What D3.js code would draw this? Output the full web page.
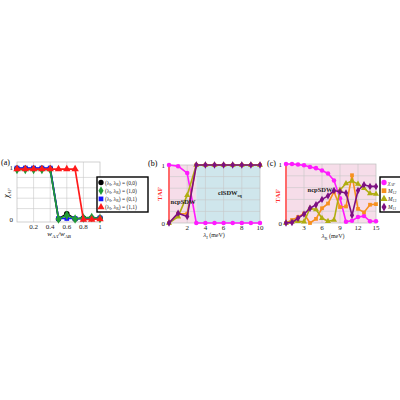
<!DOCTYPE html>
<html lang="en">
<head>
  <meta charset="UTF-8">
  <title>Order parameters vs couplings</title>
  <style>
    body { margin: 0; padding: 0; background: #fff; }
    svg { display: block; font-family: "Liberation Serif", "DejaVu Serif", serif; }
    .grid line { stroke: #c8c8c8; stroke-width: 0.6; }
    .tick-label { font-size: 7px; fill: #222; }
  </style>
</head>
<body>
  <svg id="chart" width="400" height="400"></svg>

  <script src="https://d3js.org/d3.v7.min.js"></script>
  <script>
    // ---- data ----
    // (a) chi_AF vs w_AA/w_AB
    const wRatio = [0, 0.1, 0.2, 0.3, 0.4, 0.5, 0.6, 0.7, 0.8, 0.9, 1.0];
    const chi00 = [0.97, 0.97, 0.97, 0.97, 0.97, 0.00, 0.10, 0.00, 0.02, 0.02, 0.02];
    const chi10 = [0.95, 0.95, 0.95, 0.95, 0.95, 0.00, 0.07, 0.00, 0.02, 0.03, 0.01];
    const chi01 = [0.98, 0.98, 0.98, 0.98, 0.98, 0.01, 0.01, 0.01, 0.00, 0.01, 0.02];
    const chi11 = [0.96, 0.96, 0.96, 0.96, 0.96, 0.96, 0.96, 0.96, -0.01, -0.01, 0.00];
    const legendA = ["(0,0)", "(1,0)", "(0,1)", "(1,1)"];

    // (b) vs lambda_I
    const lamI = [0, 1, 2, 3, 4, 5, 6, 7, 8, 9, 10];
    const chiB = [1.00, 0.98, 0.86, 0, 0, 0, 0, 0, 0, 0, 0];
    const m12B = [0, 0.16, 0.16, 1, 1, 1, 1, 1, 1, 1, 1];
    const m13B = [0, 0.11, 0.48, 1, 1, 1, 1, 1, 1, 1, 1];
    const m11B = [0, 0.17, 0.11, 1, 1, 1, 1, 1, 1, 1, 1];

    // (c) vs lambda_R
    const lamR = [0, 1, 2, 3, 4, 5, 6, 7, 8, 9, 10, 11, 12, 13, 14, 15];
    const chiC = [1.00, 1.00, 0.99, 0.98, 0.95, 0.93, 0.89, 0.84, 0.72, 0.42, 0.02, 0.04, 0.10, 0.12, 0.03, 0.03];
    const m12C = [0, 0.05, 0.10, 0.16, 0.00, 0.07, 0.25, 0.33, 0.53, 0.27, 0.28, 0.81, 0.24, 0.18, 0.31, 0.32];
    const m13C = [0, 0.02, 0.03, 0.02, 0.25, 0.23, 0.08, 0.03, 0.05, 0.56, 0.67, 0.71, 0.66, 0.59, 0.50, 0.49];
    const m11C = [0, 0.01, 0.08, 0.15, 0.25, 0.31, 0.40, 0.46, 0.55, 0.53, 0.51, 0.13, 0.55, 0.65, 0.62, 0.62];

    const svg = d3.select("#chart");
    svg.append("rect").attr("width", 400).attr("height", 400).attr("fill", "#fff");

    const C = { mag: "#ff1aff", ora: "#f7901e", oli: "#b0ad10", pur: "#7d0f82" };
    const sym = {
      circle: d3.symbolCircle, square: d3.symbolSquare,
      triangle: d3.symbolTriangle, diamond: d3.symbolDiamond
    };

    // generic panel: frame, grid, ticks
    function panel(o) {
      const x = d3.scaleLinear().domain(o.xDom).range(o.xR);
      const y = d3.scaleLinear().domain(o.yDom).range(o.yR);
      const g = svg.append("g");
      const top = o.frameTop, bot = o.frameBot;

      (o.shades || []).forEach(s => {
        g.append("rect")
          .attr("x", x(s.from)).attr("width", x(s.to) - x(s.from))
          .attr("y", top).attr("height", bot - top)
          .attr("fill", s.color);
      });

      const grid = g.append("g").attr("class", "grid");
      grid.selectAll(".gx").data(o.xGrid).enter().append("line")
        .attr("x1", d => x(d)).attr("x2", d => x(d))
        .attr("y1", top).attr("y2", bot);
      grid.selectAll(".gy").data(o.yGrid).enter().append("line")
        .attr("x1", o.xR[0]).attr("x2", o.xR[1])
        .attr("y1", d => y(d)).attr("y2", d => y(d));

      g.append("rect")
        .attr("x", o.xR[0]).attr("y", top)
        .attr("width", o.xR[1] - o.xR[0]).attr("height", bot - top)
        .attr("fill", "none").attr("stroke", "#bdbdbd").attr("stroke-width", 0.7);

      if (o.redAxis) {
        g.append("line")
          .attr("x1", x(o.xDom[0])).attr("x2", x(o.xDom[0]))
          .attr("y1", top).attr("y2", bot)
          .attr("stroke", "#ff6a6a").attr("stroke-width", 2);
      }

      g.selectAll(".xt").data(o.xTicks).enter().append("text")
        .attr("class", "tick-label")
        .attr("x", d => x(d)).attr("y", bot + 6.5)
        .attr("text-anchor", "middle")
        .text(o.xFmt || (d => d));
      g.selectAll(".yt").data([0, 1]).enter().append("text")
        .attr("class", "tick-label")
        .attr("x", o.xR[0] - 4).attr("y", d => y(d) + 2.5)
        .attr("text-anchor", "end")
        .text(d => d);

      return { x, y, g };
    }

    function series(p, xs, ys, color, shape, size, width) {
      const pts = xs.map((v, i) => [v, ys[i]]);
      p.g.append("path")
        .datum(pts)
        .attr("fill", "none").attr("stroke", color).attr("stroke-width", width)
        .attr("stroke-linejoin", "round")
        .attr("d", d3.line().x(d => p.x(d[0])).y(d => p.y(d[1])));
      p.g.selectAll(null).data(pts).enter().append("path")
        .attr("transform", d => `translate(${p.x(d[0])},${p.y(d[1])})`)
        .attr("d", d3.symbol().type(shape).size(size))
        .attr("fill", color);
    }

    function legend(x0, y0, w, h, items, rowH) {
      const g = svg.append("g");
      g.append("rect").attr("x", x0).attr("y", y0).attr("width", w).attr("height", h)
        .attr("fill", "#fff").attr("stroke", "#000").attr("stroke-width", 1.4);
      items.forEach((it, i) => {
        const cy = y0 + 5.5 + i * rowH;
        g.append("path")
          .attr("transform", `translate(${x0 + 4},${cy})`)
          .attr("d", d3.symbol().type(it.shape).size(it.size || 18))
          .attr("fill", it.color);
        const t = g.append("text").attr("x", x0 + 8).attr("y", cy + 2)
          .attr("font-size", 5.5).attr("fill", "#222");
        it.label(t);
      });
    }

    // ---------- (a) ----------
    const pa = panel({
      xDom: [0, 1], xR: [17, 100], yDom: [0, 1], yR: [219, 167],
      frameTop: 162, frameBot: 222,
      xGrid: [0.2, 0.4, 0.6, 0.8], yGrid: [0.2, 0.4, 0.6, 0.8],
      xTicks: [0.2, 0.4, 0.6, 0.8, 1]
    });
    series(pa, wRatio, chi00, "#000", sym.circle, 24, 1.7);
    series(pa, wRatio, chi01, "#1515ff", sym.square, 22, 1.7);
    series(pa, wRatio, chi10, "#1f9b35", sym.diamond, 26, 1.7);
    series(pa, wRatio, chi11, "#ff1a1a", sym.triangle, 24, 1.7);

    svg.append("text").attr("x", 1).attr("y", 165).attr("font-size", 8).text("(a)");
    svg.append("text")
      .attr("transform", "translate(9,193) rotate(-90)")
      .attr("text-anchor", "middle").attr("font-size", 7.5).attr("font-style", "italic")
      .call(t => { t.append("tspan").text("χ"); t.append("tspan").attr("font-size", 5).attr("dy", 1.5).text("AF"); });
    svg.append("text").attr("x", 59).attr("y", 236).attr("text-anchor", "middle")
      .attr("font-size", 7).attr("font-style", "italic")
      .call(t => {
        t.append("tspan").text("w");
        t.append("tspan").attr("font-size", 5).attr("dy", 1.5).text("AA");
        t.append("tspan").attr("dy", -1.5).text("/w");
        t.append("tspan").attr("font-size", 5).attr("dy", 1.5).text("AB");
      });

    const colorsA = ["#000", "#1f9b35", "#1515ff", "#ff1a1a"];
    const shapesA = [sym.circle, sym.diamond, sym.square, sym.triangle];
    legend(97, 177, 51, 35, legendA.map((v, i) => ({
      color: colorsA[i], shape: shapesA[i], size: 22,
      label: t => {
        t.append("tspan").text("(λ");
        t.append("tspan").attr("font-size", 3.8).attr("dy", 1).text("I");
        t.append("tspan").attr("dy", -1).text(", λ");
        t.append("tspan").attr("font-size", 3.8).attr("dy", 1).text("R");
        t.append("tspan").attr("dy", -1).text(") = " + v);
      }
    })), 8.2);

    // ---------- (b) ----------
    const pb = panel({
      xDom: [0, 10], xR: [169, 260], yDom: [0, 1], yR: [223, 165],
      frameTop: 165, frameBot: 223,
      shades: [{ from: 0, to: 3, color: "#f6dde9" }, { from: 3, to: 10, color: "#cfe6ec" }],
      xGrid: [2, 4, 6, 8], yGrid: [0.2, 0.4, 0.6, 0.8],
      xTicks: [2, 4, 6, 8, 10], redAxis: true
    });
    series(pb, lamI, chiB, C.mag, sym.circle, 16, 1.6);
    series(pb, lamI, m12B, C.ora, sym.square, 14, 1.6);
    series(pb, lamI, m13B, C.oli, sym.triangle, 16, 1.6);
    series(pb, lamI, m11B, C.pur, sym.diamond, 16, 1.6);

    svg.append("text").attr("x", 148).attr("y", 166).attr("font-size", 8).text("(b)");
    svg.append("text").attr("transform", "translate(162,194) rotate(-90)")
      .attr("text-anchor", "middle").attr("font-size", 7).attr("font-weight", "bold")
      .attr("fill", "#ff3030").text("TAF");
    svg.append("text").attr("x", 183).attr("y", 204).attr("text-anchor", "middle")
      .attr("font-size", 6.5).attr("font-weight", "bold").attr("fill", "#222").text("ncpSDW");
    svg.append("text").attr("x", 230).attr("y", 195).attr("text-anchor", "middle")
      .attr("font-size", 6.5).attr("font-weight", "bold").attr("fill", "#222")
      .call(t => { t.append("tspan").text("clSDW"); t.append("tspan").attr("font-size", 4.5).attr("dy", 1.5).text("sq"); });
    svg.append("text").attr("x", 214).attr("y", 237).attr("text-anchor", "middle")
      .attr("font-size", 6).attr("fill", "#222")
      .call(t => {
        t.append("tspan").attr("font-style", "italic").attr("font-size", 7).text("λ");
        t.append("tspan").attr("font-size", 4.5).attr("dy", 1.5).text("I");
        t.append("tspan").attr("dy", -1.5).text(" (meV)");
      });

    // ---------- (c) ----------
    const pc = panel({
      xDom: [0, 15], xR: [286, 376], yDom: [0, 1], yR: [223, 164],
      frameTop: 164, frameBot: 223,
      shades: [{ from: 0, to: 15, color: "#f6dde9" }],
      xGrid: [3, 6, 9, 12], yGrid: [0.2, 0.4, 0.6, 0.8],
      xTicks: [3, 6, 9, 12, 15], redAxis: true
    });
    series(pc, lamR, chiC, C.mag, sym.circle, 16, 1.6);
    series(pc, lamR, m12C, C.ora, sym.square, 14, 1.6);
    series(pc, lamR, m13C, C.oli, sym.triangle, 16, 1.6);
    series(pc, lamR, m11C, C.pur, sym.diamond, 16, 1.6);

    svg.append("text").attr("x", 267).attr("y", 166).attr("font-size", 8).text("(c)");
    svg.append("text").attr("transform", "translate(280,196) rotate(-90)")
      .attr("text-anchor", "middle").attr("font-size", 7).attr("font-weight", "bold")
      .attr("fill", "#ff3030").text("TAF");
    svg.append("text").attr("x", 320).attr("y", 192).attr("text-anchor", "middle")
      .attr("font-size", 6.5).attr("font-weight", "bold").attr("fill", "#222").text("ncpSDW");
    svg.append("text").attr("x", 333).attr("y", 238).attr("text-anchor", "middle")
      .attr("font-size", 6).attr("fill", "#222")
      .call(t => {
        t.append("tspan").attr("font-style", "italic").attr("font-size", 7).text("λ");
        t.append("tspan").attr("font-size", 4.5).attr("dy", 1.5).text("R");
        t.append("tspan").attr("dy", -1.5).text(" (meV)");
      });

    const legC = [
      { color: C.mag, shape: sym.circle, main: "χ", sub: "AF" },
      { color: C.ora, shape: sym.square, main: "M", sub: "12" },
      { color: C.oli, shape: sym.triangle, main: "M", sub: "13" },
      { color: C.pur, shape: sym.diamond, main: "M", sub: "11" }
    ];
    legend(380, 177, 22, 35, legC.map(d => ({
      color: d.color, shape: d.shape, size: 22,
      label: t => {
        t.attr("font-style", "italic");
        t.append("tspan").text(d.main);
        t.append("tspan").attr("font-size", 3.8).attr("dy", 1).text(d.sub);
      }
    })), 8.2);
  </script>
</body>
</html>
